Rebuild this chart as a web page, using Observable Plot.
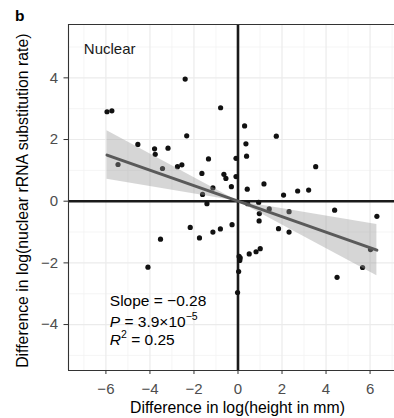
<!DOCTYPE html>
<html><head><meta charset="utf-8">
<script src="https://cdn.jsdelivr.net/npm/d3@7"></script>
<script src="https://cdn.jsdelivr.net/npm/@observablehq/plot@0.6"></script>
<style>
html,body{margin:0;padding:0;background:#fff;overflow:hidden}
#chart{width:394px;height:418px}
</style></head><body><div id="chart"></div>
<script>
// Data
const heightDiff = [-5.95,-5.73,-5.45,-4.55,-4.09,-3.79,-3.76,-3.52,-3.43,-3.18,
  -2.75,-2.55,-2.40,-2.33,-2.17,-1.75,-1.64,-1.61,-1.41,-1.34,
  -1.14,-1.14,-0.80,-0.79,-0.64,-0.55,-0.30,-0.27,-0.09,-0.09,
  -0.02,0.03,0.05,0.10,0.08,0.30,0.36,0.39,0.42,0.44,
  0.51,0.82,0.94,0.97,0.96,1.01,1.18,1.42,1.74,1.84,
  2.07,2.32,2.32,2.71,3.21,3.53,4.39,4.50,5.66,6.02,6.31];
const rateDiff = [2.90,2.93,1.19,1.84,-2.14,1.70,1.52,-1.23,1.06,1.72,
  1.12,1.18,3.96,2.12,-0.85,-1.19,0.90,0.22,-0.08,1.37,
  0.43,-1.00,-0.90,3.03,0.87,0.74,0.47,-0.76,1.39,0.80,
  -2.96,-2.28,-1.79,-1.84,-1.92,2.44,1.86,1.46,0.39,-0.08,
  -1.71,-1.64,-0.04,-0.40,-0.64,-1.54,0.56,-0.25,2.11,-0.89,
  0.20,-0.34,-1.00,0.33,0.36,1.12,-0.29,-2.47,-2.15,-1.57,-0.49];
const xTicks = [-6,-4,-2,0,2,4,6];
const yTicks = [-4,-2,0,2,4];
const xMinor = [-7,-5,-3,-1,1,3,5,7];
const yMinor = [-5,-3,-1,1,3,5];
const panelTag = "b";
const panelTitle = "Nuclear";
const xLabel = "Difference in log(height in mm)";
const yLabel = "Difference in log(nuclear rRNA substitution rate)";
const slopeValue = "\u22120.28";
const pMantissa = "3.9\u00D710";
const pExponent = "\u22125";
const r2Value = "0.25";

const xDomain = [-7.70, 7.11];
const yDomain = [-5.49, 5.73];

const points = heightDiff.map((x, i) => ({x, y: rateDiff[i]}));

// regression through the origin (independent contrasts), with 95% band
const n = points.length;
const sxx = d3.sum(points, d => d.x * d.x);
const sxy = d3.sum(points, d => d.x * d.y);
const b = sxy / sxx;
const s2 = d3.sum(points, d => (d.y - b * d.x) ** 2) / (n - 1);
const se = Math.sqrt(s2 / sxx);
const tq = 2.0;
const [xmin, xmax] = d3.extent(heightDiff);
const band = [xmin, 0, xmax].map(x => ({
  x, y: b * x, lo: b * x - tq * se * Math.abs(x), hi: b * x + tq * se * Math.abs(x)
}));

const FONT = "'Liberation Sans', Arial, Helvetica, sans-serif";

const plot = Plot.plot({
  width: 394, height: 418,
  marginLeft: 68, marginRight: 0, marginTop: 24, marginBottom: 48,
  style: {fontFamily: FONT, background: "#fff", overflow: "visible"},
  x: {domain: xDomain, label: null},
  y: {domain: yDomain, label: null},
  marks: [
    Plot.ruleX(xMinor, {stroke: "#f2f2f2", strokeWidth: 0.8}),
    Plot.ruleY(yMinor, {stroke: "#f2f2f2", strokeWidth: 0.8}),
    Plot.ruleX(xTicks, {stroke: "#ebebeb", strokeWidth: 1.2}),
    Plot.ruleY(yTicks, {stroke: "#ebebeb", strokeWidth: 1.2}),
    Plot.ruleX([0], {stroke: "#1a1a1a", strokeWidth: 2.6}),
    Plot.ruleY([0], {stroke: "#1a1a1a", strokeWidth: 2.6}),
    Plot.dot(points, {x: "x", y: "y", r: 2.6, fill: "#111", stroke: null}),
    Plot.areaY(band, {x: "x", y1: "lo", y2: "hi", fill: "#999", fillOpacity: 0.4}),
    Plot.line(band, {x: "x", y: "y", stroke: "#5a5a5a", strokeWidth: 3}),
    Plot.ruleY([yDomain[1]], {stroke: "#333", strokeWidth: 1.1}),
    Plot.ruleY([yDomain[0]], {stroke: "#333", strokeWidth: 1.1}),
    Plot.ruleX([xDomain[0]], {stroke: "#333", strokeWidth: 1.1}),
    Plot.axisX({ticks: xTicks, tickSize: 4, tickPadding: 9, stroke: "#333", fill: "#4d4d4d", fontSize: 15, label: null}),
    Plot.axisY({ticks: yTicks, tickSize: 4.5, tickPadding: 6, stroke: "#333", fill: "#4d4d4d", fontSize: 15, label: null})
  ]
});
document.getElementById("chart").appendChild(plot);

const svg = d3.select(plot);
const sx = plot.scale("x"), sy = plot.scale("y");
const txt = (x, y, size) => svg.append("text").attr("x", x).attr("y", y)
  .attr("text-anchor", "start")
  .attr("font-family", FONT).attr("font-size", size).attr("fill", "#000");

txt(15, 20.7, 15.5).attr("font-weight", "bold").text(panelTag);
txt(sx.apply(-6.98), sy.apply(4.76), 15).attr("fill", "#1a1a1a").text(panelTitle);

txt(sx.apply(0), 413.3, 15.8).attr("text-anchor", "middle").text(xLabel);
svg.append("text")
  .attr("transform", `translate(28.3,${sy.apply(0)}) rotate(-90)`)
  .attr("text-anchor", "middle").attr("font-family", FONT)
  .attr("font-size", 15.8).attr("fill", "#000").text(yLabel);

const ax = sx.apply(-5.8), ay = sy.apply(-3.43);
txt(ax, ay, 15.5).text("Slope = " + slopeValue);
const pLine = txt(ax, ay + 20.2, 15.5);
pLine.append("tspan").attr("font-style", "italic").text("P");
pLine.append("tspan").text(" = " + pMantissa);
pLine.append("tspan").attr("font-size", 10.5).attr("dy", -7).text(pExponent);
const rLine = txt(ax, ay + 38.5, 15.5);
rLine.append("tspan").attr("font-style", "italic").text("R");
rLine.append("tspan").attr("font-size", 10.5).attr("dy", -6.5).text("2");
rLine.append("tspan").attr("dy", 6.5).text(" = " + r2Value);
</script></body></html>
